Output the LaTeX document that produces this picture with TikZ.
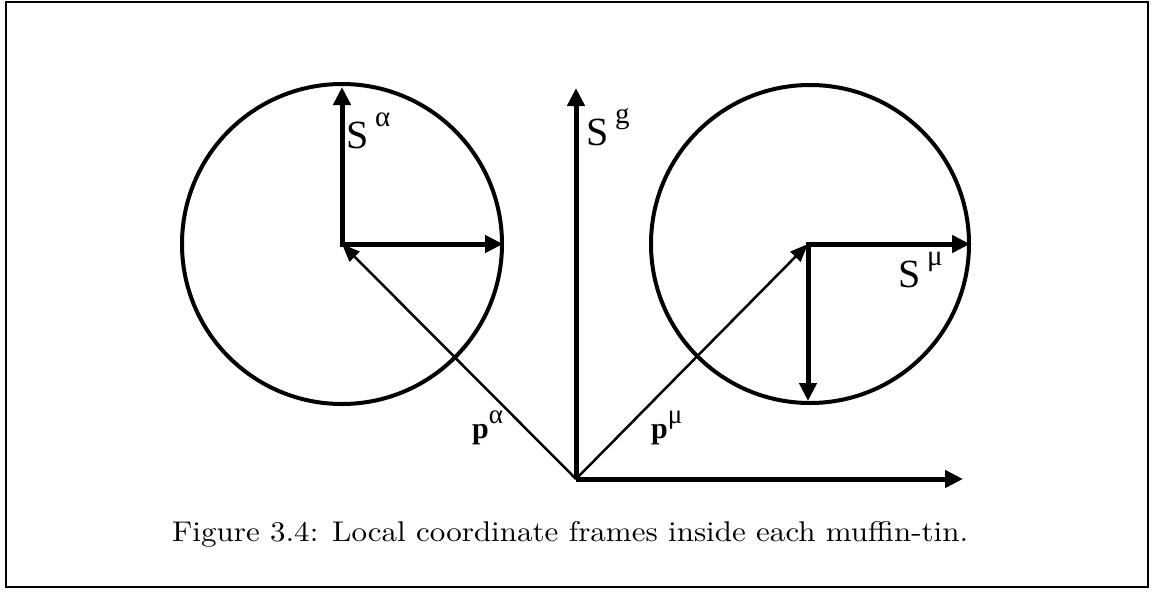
\documentclass[tikz,border=0pt]{standalone}
\usepackage{fontspec}
\usepackage{graphicx}
\newfontfamily\timesf{Liberation Serif}
\newfontfamily\capf{lmroman10-regular.otf}
\usetikzlibrary{arrows.meta}
\tikzset{
  axis/.style={line width=5pt,-{Triangle[length=18pt,width=17pt]}},
  pvec/.style={line width=2.5pt,-{Triangle[length=18pt,width=14pt]}},
  mt/.style={line width=4pt},
  lbl/.style={inner sep=0pt,anchor=base west,font=\timesf\fontsize{40}{40}\selectfont},
  plbl/.style={inner sep=0pt,anchor=base west,font=\timesf\bfseries\fontsize{30}{30}\selectfont},
}
\newcommand{\supr}[1]{\raisebox{0.55em}{\fontsize{29}{29}\selectfont #1}}
\newcommand{\psup}[1]{\raisebox{0.5em}{\fontsize{27}{27}\selectfont\mdseries #1}}
\begin{document}
\begin{tikzpicture}[x=1pt,y=-1pt]
\useasboundingbox (0,0) rectangle (1154,592);
\draw[line width=2pt] (6,1.5) rectangle (1148,587);
% origin
\coordinate (O) at (576,479);
\coordinate (ca) at (342,244);
\coordinate (cm) at (808,244);
\node[mt,draw,circle,minimum size=320pt,inner sep=0pt] (La) at (ca) {};
\node[mt,draw,circle,minimum size=318pt,inner sep=0pt] (Lm) at (810,244) {};
\coordinate (gx) at (963,479);
\coordinate (gy) at (576,88);
\draw[axis] (O) -- (gx);
\draw[axis] (O) -- (gy);
\coordinate (ay) at (342,87);
\coordinate (ax) at (503,244);
\draw[axis] (ca) -- (ay);
\draw[axis] ([xshift=-2.5pt]ca) -- (ax);
\coordinate (mx) at (970,244);
\coordinate (my) at (808,401);
\draw[axis] ([xshift=-2.5pt]cm) -- (mx);
\draw[axis] (cm) -- (my);
\draw[pvec] (O) -- (ca);
\draw[pvec] (O) -- (cm);
% labels
\node[lbl] (Sa) at (346,148) {S\,\supr{α}};
\node[lbl] (Sg) at (586,145) {S\,\supr{g}};
\node[lbl] (Sm) at (898,287) {S\,\supr{μ}};
\node[plbl] (pa) at (472,438) {p\psup{α}};
\node[plbl] (pm) at (651,438) {p\psup{μ}};
\node[inner sep=0pt,anchor=base west] (cap) at (172,541) {\resizebox{796pt}{\height}{\capf\fontsize{28.5}{30}\selectfont Figure 3.4: Local coordinate frames inside each muffin-tin.}};
\end{tikzpicture}
\end{document}
